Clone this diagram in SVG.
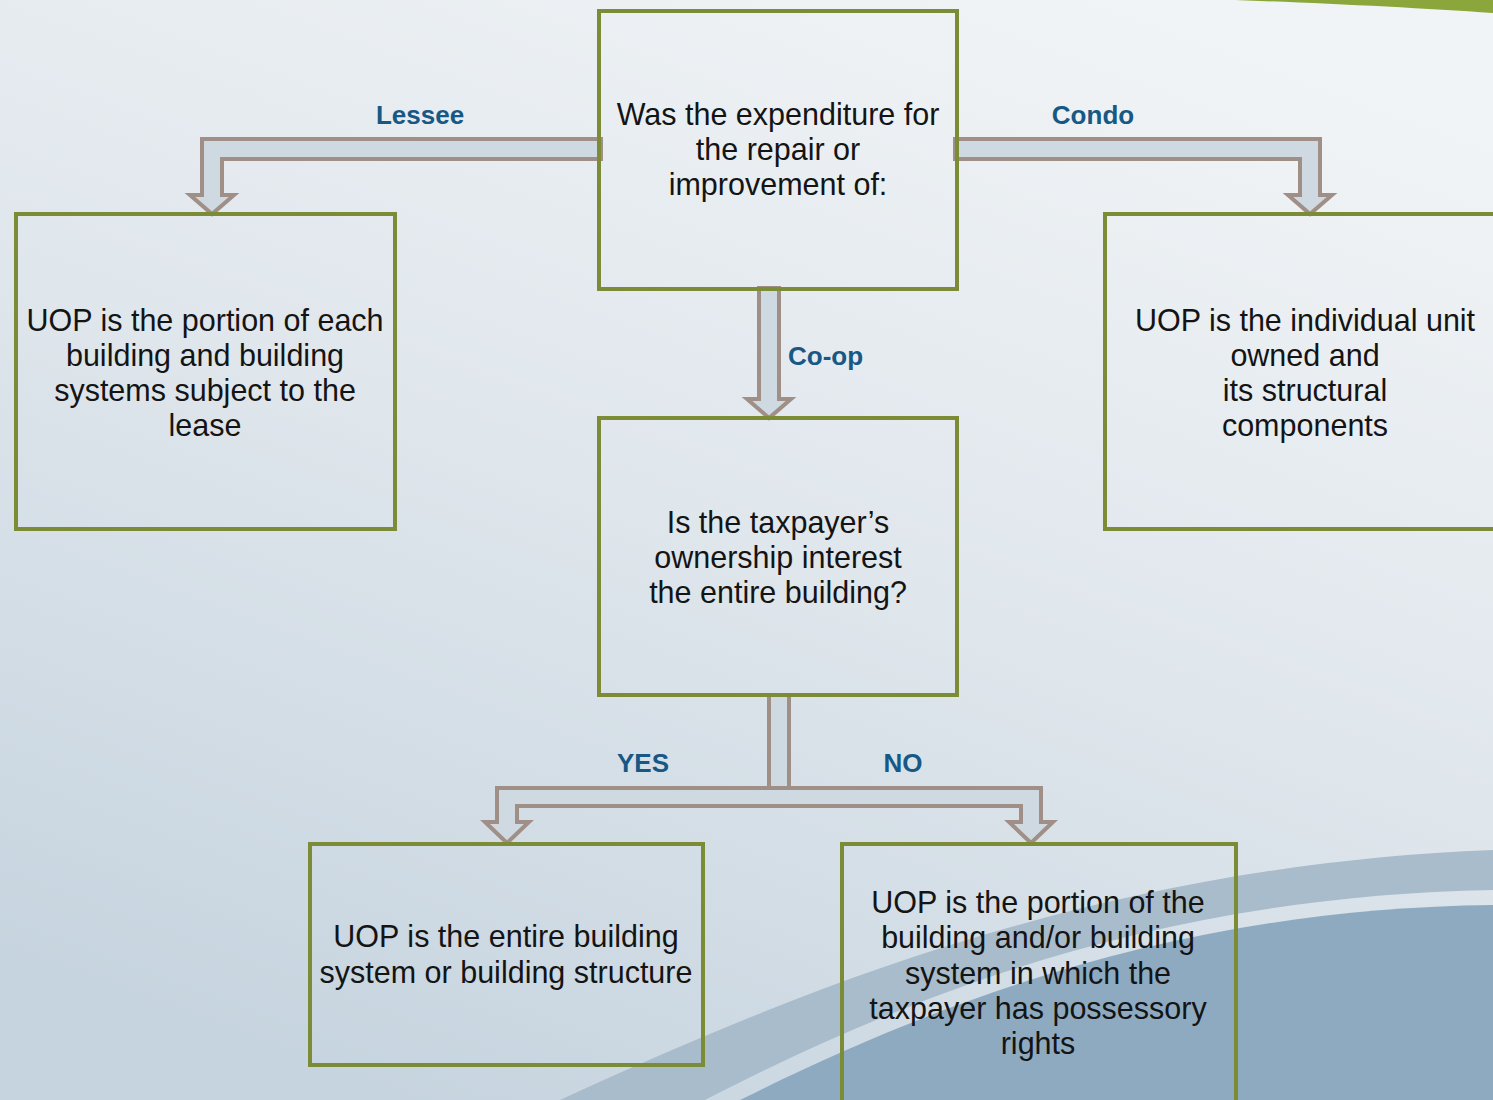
<svg xmlns="http://www.w3.org/2000/svg" width="1493" height="1100" viewBox="0 0 1493 1100">
<defs>
<linearGradient id="bg" x1="0.75" y1="0" x2="0.25" y2="1">
<stop offset="0" stop-color="#f1f4f6"/>
<stop offset="0.5" stop-color="#dfe6ec"/>
<stop offset="1" stop-color="#c6d4df"/>
</linearGradient>
<style>
.box{fill:none;stroke:#7b8b36;stroke-width:4}
.arr{fill:#cfd9e2;stroke:#a08f86;stroke-width:4;stroke-linejoin:miter}
.t{font-family:"Liberation Sans",Arial,sans-serif;font-size:30.5px;fill:#141414;text-anchor:middle}
.lbl{font-family:"Liberation Sans",Arial,sans-serif;font-size:26px;font-weight:bold;fill:#175885}
</style>
</defs>
<rect width="1493" height="1100" fill="url(#bg)"/>
<path d="M1235,0 L1493,0 L1493,13 C1420,8 1320,3 1235,0 Z" fill="#8ba63b"/>
<path d="M560,1100 C800,990 1100,865 1493,850 L1493,890 C1150,896 900,1000 705,1100 Z" fill="#a9bccb"/>
<path d="M740,1100 C960,990 1200,908 1493,905 L1493,1100 Z" fill="#8eaac1"/>

<g id="connectors">
<path class="arr" d="M601,139 L202,139 L202,195 L190,195 L212,214 L234,195 L222,195 L222,159 L601,159 Z"/>
<path class="arr" d="M955,139 L1320,139 L1320,195 L1332,195 L1310,214 L1288,195 L1300,195 L1300,159 L955,159 Z"/>
<path class="arr" d="M759,288 L779,288 L779,399 L791,399 L769,418 L747,399 L759,399 Z"/>
<rect class="arr" x="769" y="695" width="20" height="93"/>
<path class="arr" d="M497,788 L1041,788 L1041,822 L1053,822 L1031,843 L1009,822 L1021,822 L1021,806 L517,806 L517,822 L529,822 L507,843 L485,822 L497,822 Z"/>
<text class="lbl" x="420" y="124" text-anchor="middle">Lessee</text>
<text class="lbl" x="1093" y="124" text-anchor="middle">Condo</text>
<text class="lbl" x="788" y="365">Co-op</text>
<text class="lbl" x="643" y="772" text-anchor="middle">YES</text>
<text class="lbl" x="903" y="772" text-anchor="middle">NO</text>
</g>

<g id="q1">
<rect class="box" x="599" y="11" width="358" height="278"/>
<text class="t" x="778" y="125">Was the expenditure for</text>
<text class="t" x="778" y="160">the repair or</text>
<text class="t" x="778" y="195">improvement of:</text>
</g>
<g id="lessee">
<rect class="box" x="16" y="214" width="379" height="315"/>
<text class="t" x="205" y="331">UOP is the portion of each</text>
<text class="t" x="205" y="366">building and building</text>
<text class="t" x="205" y="401">systems subject to the</text>
<text class="t" x="205" y="436">lease</text>
</g>
<g id="condo">
<rect class="box" x="1105" y="214" width="392" height="315"/>
<text class="t" x="1305" y="331">UOP is the individual unit</text>
<text class="t" x="1305" y="366">owned and</text>
<text class="t" x="1305" y="401">its structural</text>
<text class="t" x="1305" y="436">components</text>
</g>
<g id="q2">
<rect class="box" x="599" y="418" width="358" height="277"/>
<text class="t" x="778" y="533">Is the taxpayer’s</text>
<text class="t" x="778" y="568">ownership interest</text>
<text class="t" x="778" y="603">the entire building?</text>
</g>
<g id="yes">
<rect class="box" x="310" y="844" width="393" height="221"/>
<text class="t" x="506" y="947">UOP is the entire building</text>
<text class="t" x="506" y="983">system or building structure</text>
</g>
<g id="no">
<rect class="box" x="842" y="844" width="394" height="262"/>
<text class="t" x="1038" y="913">UOP is the portion of the</text>
<text class="t" x="1038" y="948">building and/or building</text>
<text class="t" x="1038" y="984">system in which the</text>
<text class="t" x="1038" y="1019">taxpayer has possessory</text>
<text class="t" x="1038" y="1054">rights</text>
</g>
</svg>
